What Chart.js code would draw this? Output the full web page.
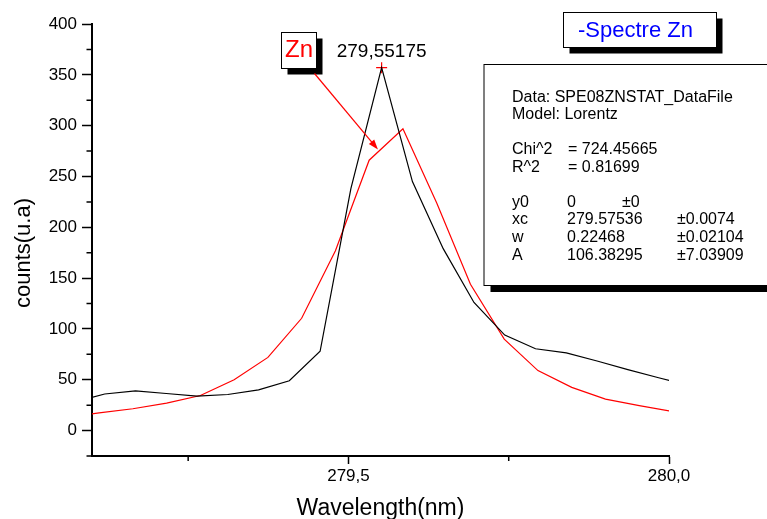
<!DOCTYPE html>
<html>
<head>
<meta charset="utf-8">
<script src="https://cdn.jsdelivr.net/npm/chart.js@4.4.1/dist/chart.umd.min.js"></script>
<style>
  html, body { margin:0; padding:0; background:#fff; }
  #chart { display:block; }
</style>
</head>
<body>
<canvas id="chart" width="767" height="519"></canvas>
<script>
// Spectre Zn : mesure (noir) + ajustement Lorentz (rouge)
const blackX = [279.0718, 279.1198, 279.1678, 279.2158, 279.2638, 279.3118, 279.3598, 279.4078, 279.4558, 279.5038,
                279.55175, 279.5998, 279.6478, 279.6958, 279.7438, 279.7918, 279.8398, 279.8878, 279.9358, 279.9838, 280.0318];
const blackY = [28, 36, 39, 36.5, 34, 35.5, 40, 49, 78, 238,
                357, 245, 179, 126, 94, 80.5, 76.5, 68.5, 60, 52, 44];

const redX = [279.0584, 279.1111, 279.1637, 279.2164, 279.2691, 279.3217, 279.3744, 279.4270, 279.4797, 279.5323,
              279.5850, 279.6377, 279.6903, 279.7430, 279.7956, 279.8483, 279.9009, 279.9536, 280.0063];
const redY = [13, 17.4, 21.5, 27, 34.5, 50, 72, 110.5, 177, 266,
              297, 224, 144, 90, 59, 42.5, 31, 24.5, 18.7];

// pic marqué (+) et pointe de la flèche "Zn"
const peakX = [279.55175];
const peakY = [357];
const arrowTip = [279.546, 276.5];

const xTicks = [279.5, 280.0];
const xMinorTicks = [279.25, 279.75];
const yTicks = [0, 50, 100, 150, 200, 250, 300, 350, 400];
const yMinorTicks = [-25, 25, 75, 125, 175, 225, 275, 325, 375];

const fitHeader = ["Data: SPE08ZNSTAT_DataFile", "Model: Lorentz"];
const fitStats = [["Chi^2", "= 724.45665"], ["R^2", "= 0.81699"]];
const fitParams = [["y0", "0", "±0"], ["xc", "279.57536", "±0.0074"], ["w", "0.22468", "±0.02104"], ["A", "106.38295", "±7.03909"]];

const FONT = '"Liberation Sans", Arial, Helvetica, sans-serif';
Chart.defaults.font.family = FONT;
Chart.defaults.color = '#000';

function toPts(xs, ys){ return xs.map((x, i) => ({x, y: ys[i]})); }

function shadowBox(c, x, y, w, h, d){
  c.fillStyle = '#000';
  c.fillRect(x + d, y + d, w, h);
  c.fillStyle = '#fff';
  c.fillRect(x, y, w, h);
  c.strokeStyle = '#000';
  c.lineWidth = 1;
  c.strokeRect(x + 0.5, y + 0.5, w, h);
}

const decorations = {
  id: 'decorations',
  afterDraw(chart){
    const c = chart.ctx;
    const {left, right, bottom} = chart.chartArea;
    const xs = chart.scales.x, ys = chart.scales.y;
    c.save();

    // petites graduations
    c.strokeStyle = '#000';
    c.lineWidth = 1.5;
    c.beginPath();
    yMinorTicks.forEach(v => { const y = ys.getPixelForValue(v); c.moveTo(left - 5.5, y); c.lineTo(left, y); });
    xMinorTicks.forEach(v => { const x = xs.getPixelForValue(v); c.moveTo(x, bottom); c.lineTo(x, bottom + 5); });
    c.stroke();

    // titres des axes
    c.fillStyle = '#000';
    c.font = '23px ' + FONT;
    c.textAlign = 'center';
    c.textBaseline = 'alphabetic';
    c.fillText('Wavelength(nm)', (left + right) / 2, 515);
    c.save();
    c.translate(30, 253);
    c.rotate(-Math.PI / 2);
    c.font = '22px ' + FONT;
    c.fillText('counts(u.a)', 0, 0);
    c.restore();

    // étiquette du pic
    const px = xs.getPixelForValue(peakX[0]), py = ys.getPixelForValue(peakY[0]);
    c.font = '19px ' + FONT;
    c.fillText(peakX[0].toFixed(5).replace('.', ','), px, py - 10.5);

    // boîte "Zn" + flèche
    shadowBox(c, 281, 32, 35, 36, 6.5);
    c.fillStyle = '#ff0000';
    c.font = '24px ' + FONT;
    c.textAlign = 'left';
    c.fillText('Zn', 285, 57);

    const tx = xs.getPixelForValue(arrowTip[0]), ty = ys.getPixelForValue(arrowTip[1]);
    const sx = 314.5, sy = 73.5;
    const ang = Math.atan2(ty - sy, tx - sx);
    c.strokeStyle = '#ff0000';
    c.lineWidth = 1.2;
    c.beginPath();
    c.moveTo(sx, sy);
    c.lineTo(tx - 8 * Math.cos(ang), ty - 8 * Math.sin(ang));
    c.stroke();
    c.beginPath();
    c.moveTo(tx, ty);
    c.lineTo(tx - 10 * Math.cos(ang) + 3.5 * Math.sin(ang), ty - 10 * Math.sin(ang) - 3.5 * Math.cos(ang));
    c.lineTo(tx - 10 * Math.cos(ang) - 3.5 * Math.sin(ang), ty - 10 * Math.sin(ang) + 3.5 * Math.cos(ang));
    c.closePath();
    c.fill();

    // légende
    shadowBox(c, 563, 12, 153, 35, 6.5);
    c.fillStyle = '#0000ff';
    c.font = '22px ' + FONT;
    c.fillText('-Spectre Zn', 578, 37);

    // résultats de l'ajustement
    shadowBox(c, 483.5, 64, 320, 221, 7);
    c.fillStyle = '#000';
    c.font = '16px ' + FONT;
    const bl = [101.7, 119.3, 154, 171.7, 206.5, 224, 242.3, 260];
    fitHeader.forEach((t, i) => c.fillText(t, 512, bl[i]));
    fitStats.forEach((r, i) => { c.fillText(r[0], 512, bl[2 + i]); c.fillText(r[1], 568, bl[2 + i]); });
    fitParams.forEach((r, i) => {
      c.fillText(r[0], 512, bl[4 + i]);
      c.fillText(r[1], 567, bl[4 + i]);
      c.fillText(r[2], i === 0 ? 622 : 677, bl[4 + i]);
    });

    c.restore();
  }
};

new Chart(document.getElementById('chart'), {
  type: 'line',
  data: {
    datasets: [
      { data: toPts(blackX, blackY), borderColor: '#000', borderWidth: 1.2, pointRadius: 0, tension: 0 },
      { data: toPts(redX, redY), borderColor: '#ff0000', borderWidth: 1.2, pointRadius: 0, tension: 0 },
      { data: toPts(peakX, peakY), showLine: false, pointStyle: 'cross', pointRadius: 5.5,
        borderColor: '#ff0000', borderWidth: 1.2 }
    ]
  },
  options: {
    responsive: false,
    animation: false,
    layout: { padding: { left: 0, right: 98, top: 24, bottom: 0 } },
    plugins: { legend: { display: false }, tooltip: { enabled: false } },
    scales: {
      x: {
        type: 'linear', min: 279.1, max: 280.0,
        afterBuildTicks: s => { s.ticks = xTicks.map(v => ({value: v})); },
        afterFit: s => { s.height = 63; },
        ticks: { font: { size: 17 }, padding: 2, maxRotation: 0, autoSkip: false,
                 callback: v => v.toFixed(1).replace('.', ',') },
        grid: { drawOnChartArea: false, tickLength: 8, tickWidth: 1.5, tickColor: '#000' },
        border: { display: true, color: '#000', width: 2 }
      },
      y: {
        min: -25, max: 400,
        afterBuildTicks: s => { s.ticks = yTicks.map(v => ({value: v})); },
        afterFit: s => { s.width = 92; },
        ticks: { font: { size: 17 }, padding: 5, autoSkip: false },
        grid: { drawOnChartArea: false, tickLength: 10, tickWidth: 1.5, tickColor: '#000' },
        border: { display: true, color: '#000', width: 2 }
      }
    }
  },
  plugins: [decorations]
});
</script>
</body>
</html>
